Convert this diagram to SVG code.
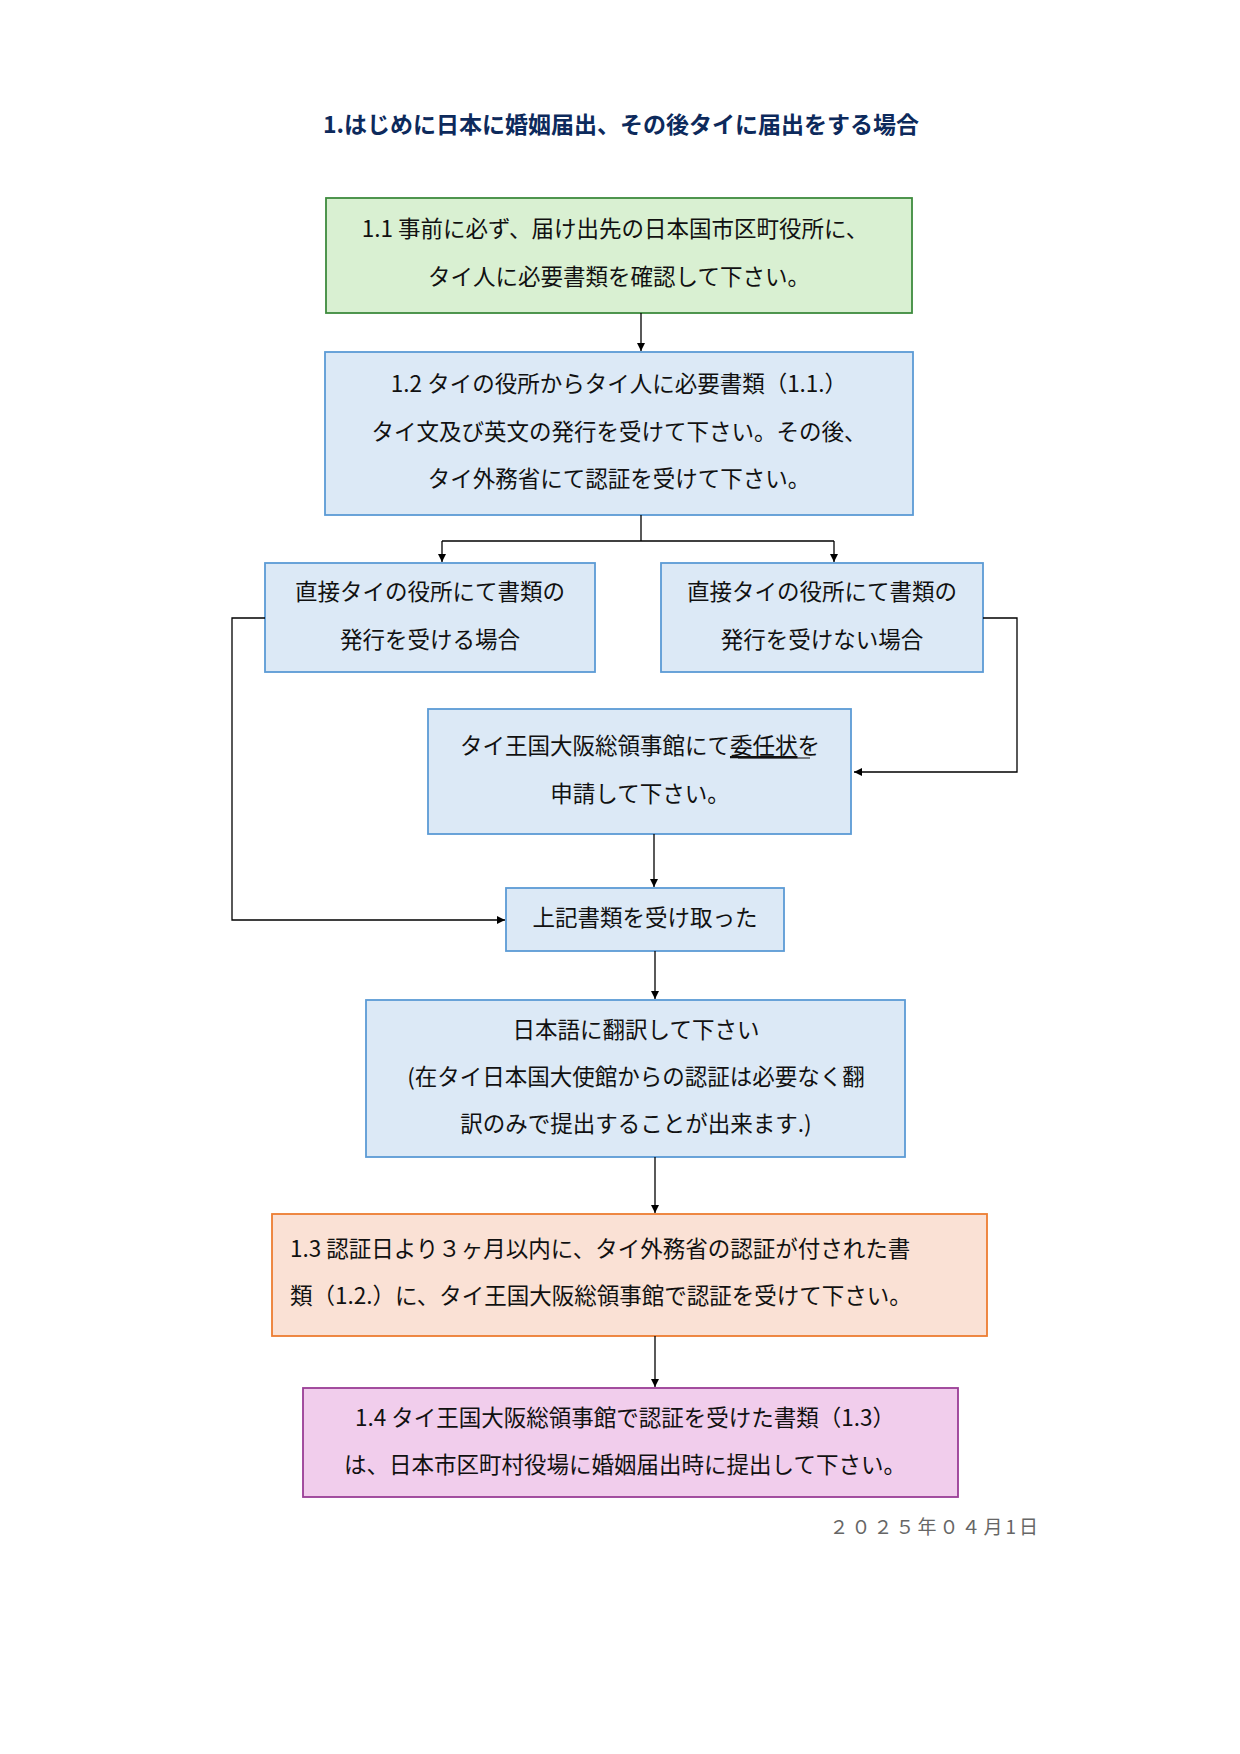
<svg xmlns="http://www.w3.org/2000/svg" width="1240" height="1754" viewBox="0 0 1240 1754">
<defs>
<marker id="ah" viewBox="0 0 10 10" refX="10" refY="5" markerWidth="8" markerHeight="8" orient="auto" markerUnits="userSpaceOnUse"><path d="M0,0 L10,5 L0,10 z" fill="#000"/></marker>
<style>
text{font-family:"Noto Sans CJK JP","Noto Sans",sans-serif;font-size:22.5px;fill:#111;text-anchor:middle}
.blue{fill:#dce9f6;stroke:#5b9bd5;stroke-width:1.8}
.c{fill:none;stroke:#000;stroke-width:1.3}
</style>
</defs>
<rect width="1240" height="1754" fill="#fff"/>
<text x="621" y="133" style="font-size:23px;font-weight:bold;fill:#0d2a5c">1.はじめに日本に婚姻届出、その後タイに届出をする場合</text>
<g id="n11"><rect x="326" y="198" width="586" height="115" fill="#d9f0d2" stroke="#3d8b3d" stroke-width="1.8"/>
<text x="615" y="237">1.1 事前に必ず、届け出先の日本国市区町役所に、</text>
<text x="619" y="285">タイ人に必要書類を確認して下さい。</text></g>
<g id="n12"><rect class="blue" x="325" y="352" width="588" height="163"/>
<text x="619" y="392">1.2 タイの役所からタイ人に必要書類（1.1.）</text>
<text x="619" y="440">タイ文及び英文の発行を受けて下さい。その後、</text>
<text x="619" y="487">タイ外務省にて認証を受けて下さい。</text></g>
<g id="nA"><rect class="blue" x="265" y="563" width="330" height="109"/>
<text x="430" y="600">直接タイの役所にて書類の</text>
<text x="430" y="648">発行を受ける場合</text></g>
<g id="nB"><rect class="blue" x="661" y="563" width="322" height="109"/>
<text x="822" y="600">直接タイの役所にて書類の</text>
<text x="822" y="648">発行を受けない場合</text></g>
<g id="nC"><rect class="blue" x="428" y="709" width="423" height="125"/>
<text x="640" y="754">タイ王国大阪総領事館にて<tspan text-decoration="underline">委任状</tspan>を</text>
<line x1="738" y1="758" x2="810" y2="758" stroke="#111" stroke-width="1.2"/>
<text x="640" y="802">申請して下さい。</text></g>
<g id="nD"><rect class="blue" x="506" y="888" width="278" height="63"/>
<text x="645" y="926">上記書類を受け取った</text></g>
<g id="nE"><rect class="blue" x="366" y="1000" width="539" height="157"/>
<text x="636" y="1038">日本語に翻訳して下さい</text>
<text x="636" y="1085">(在タイ日本国大使館からの認証は必要なく翻</text>
<text x="636" y="1132">訳のみで提出することが出来ます.)</text></g>
<g id="nF"><rect x="272" y="1214" width="715" height="122" fill="#fae1d5" stroke="#ed7d31" stroke-width="1.8"/>
<text x="290" y="1257" style="text-anchor:start">1.3 認証日より３ヶ月以内に、タイ外務省の認証が付された書</text>
<text x="290" y="1304" style="text-anchor:start">類（1.2.）に、タイ王国大阪総領事館で認証を受けて下さい。</text></g>
<g id="nG"><rect x="303" y="1388" width="655" height="109" fill="#f1cdec" stroke="#9a3d96" stroke-width="1.8"/>
<text x="625" y="1426">1.4 タイ王国大阪総領事館で認証を受けた書類（1.3）</text>
<text x="625" y="1473">は、日本市区町村役場に婚姻届出時に提出して下さい。</text></g>
<text x="1041" y="1534" style="text-anchor:end;font-size:19px;fill:#666;letter-spacing:3px">２０２５年０４月1日</text>
<g id="connectors">
<line class="c" x1="641" y1="313" x2="641" y2="351" marker-end="url(#ah)"/>
<polyline class="c" points="641,515 641,541"/>
<polyline class="c" points="442,541 834,541"/>
<line class="c" x1="442" y1="541" x2="442" y2="562" marker-end="url(#ah)"/>
<line class="c" x1="834" y1="541" x2="834" y2="562" marker-end="url(#ah)"/>
<polyline class="c" points="983,618 1017,618 1017,772 854,772" marker-end="url(#ah)"/>
<polyline class="c" points="265,618 232,618 232,920 505,920" marker-end="url(#ah)"/>
<line class="c" x1="654" y1="834" x2="654" y2="887" marker-end="url(#ah)"/>
<line class="c" x1="655" y1="951" x2="655" y2="999" marker-end="url(#ah)"/>
<line class="c" x1="655" y1="1157" x2="655" y2="1213" marker-end="url(#ah)"/>
<line class="c" x1="655" y1="1336" x2="655" y2="1387" marker-end="url(#ah)"/>
</g>
</svg>
